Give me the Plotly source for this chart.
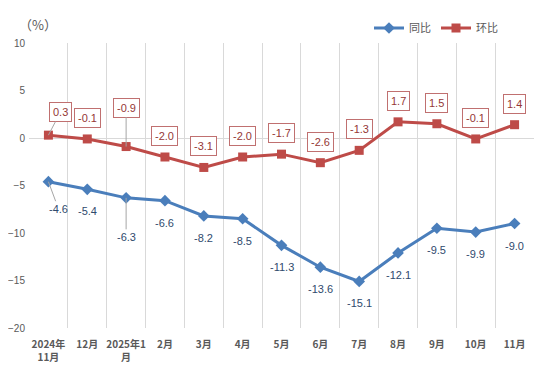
import plotly.graph_objects as go

categories = ["2024年<br>11月", "12月", "2025年1<br>月", "2月", "3月", "4月", "5月",
              "6月", "7月", "8月", "9月", "10月", "11月"]
yoy = [-4.6, -5.4, -6.3, -6.6, -8.2, -8.5, -11.3, -13.6, -15.1, -12.1, -9.5, -9.9, -9.0]
mom = [0.3, -0.1, -0.9, -2.0, -3.1, -2.0, -1.7, -2.6, -1.3, 1.7, 1.5, -0.1, 1.4]
series_names = ["同比", "环比"]
y_ticks = [10, 5, 0, -5, -10, -15, -20]

BLUE = "#4A7EBB"
RED = "#BE4B48"
NARROW = "Liberation Sans Narrow, Arial Narrow, Liberation Sans, sans-serif"

# page has an 8px body margin: figure is sized/positioned to compensate
W, H = 538, 359
L, R, T, B = 21, 12, 35, 39
PW, PH = W - L - R, H - T - B

fig = go.Figure()
fig.add_trace(go.Scatter(x=categories, y=yoy, name=series_names[0], mode="lines+markers",
                         line=dict(color=BLUE, width=3),
                         marker=dict(symbol="diamond", size=9, color=BLUE)))
fig.add_trace(go.Scatter(x=categories, y=mom, name=series_names[1], mode="lines+markers",
                         line=dict(color=RED, width=3),
                         marker=dict(symbol="square", size=9, color=RED)))

annotations = []
for i, (c, v) in enumerate(zip(categories, mom)):
    a = dict(x=c, y=v, xref="x", yref="y", text=f"{v:.1f}",
             font=dict(family=NARROW, size=11, color="#953735"),
             bgcolor="white", bordercolor="#C07070", borderwidth=1, borderpad=3)
    if i == 0:
        a.update(showarrow=True, arrowhead=0, arrowwidth=1, arrowcolor="#A6A6A6", ax=12, ay=-23)
    elif i == 2:
        a.update(showarrow=True, arrowhead=0, arrowwidth=1, arrowcolor="#A6A6A6", ax=0, ay=-39)
    else:
        a.update(showarrow=False, yshift=21)
    annotations.append(a)

for i, (c, v) in enumerate(zip(categories, yoy)):
    a = dict(x=c, y=v, xref="x", yref="y", text=f"{v:.1f}",
             font=dict(family=NARROW, size=11, color="#2F4A6D"))
    if i == 0:
        a.update(showarrow=True, arrowhead=0, arrowwidth=1, arrowcolor="#A6A6A6", ax=10, ay=27)
    elif i == 2:
        a.update(showarrow=True, arrowhead=0, arrowwidth=1, arrowcolor="#A6A6A6", ax=0, ay=39)
    else:
        a.update(showarrow=False, yshift=-22)
    annotations.append(a)

annotations.append(dict(x=(30 - L) / PW, y=(T + PH - 16) / PH, xref="paper", yref="paper",
                        text="（%）", showarrow=False, xanchor="center", yanchor="middle",
                        font=dict(family="Noto Sans CJK SC", size=13, color="#595959")))

fig.update_layout(
    width=W, height=H,
    margin=dict(l=L, r=R, t=T, b=B, pad=0, autoexpand=False),
    paper_bgcolor="white", plot_bgcolor="white",
    showlegend=True,
    legend=dict(orientation="h", x=(361 - L) / PW, y=(T + PH - 20) / PH,
                xanchor="left", yanchor="middle",
                font=dict(family="Noto Sans CJK SC", size=11, color="#595959"),
                itemwidth=30, bgcolor="rgba(0,0,0,0)"),
    annotations=annotations,
    xaxis=dict(type="category", tickson="boundaries", showgrid=True, gridcolor="#D9D9D9",
               gridwidth=1, ticks="", showline=False, zeroline=False, tickangle=0,
               automargin=False, ticklabelstandoff=9,
               tickfont=dict(family="Noto Sans CJK SC", size=10, color="#595959", weight="bold"),
               range=[-0.5, 12.5]),
    yaxis=dict(range=[-20, 10], tickvals=y_ticks, showgrid=False, zeroline=True,
               zerolinecolor="#D9D9D9", zerolinewidth=1, showline=False, ticks="",
               automargin=False, ticklabelstandoff=3,
               tickfont=dict(family=NARROW, size=10, color="#595959")),
)

fig.write_html("out.html")
